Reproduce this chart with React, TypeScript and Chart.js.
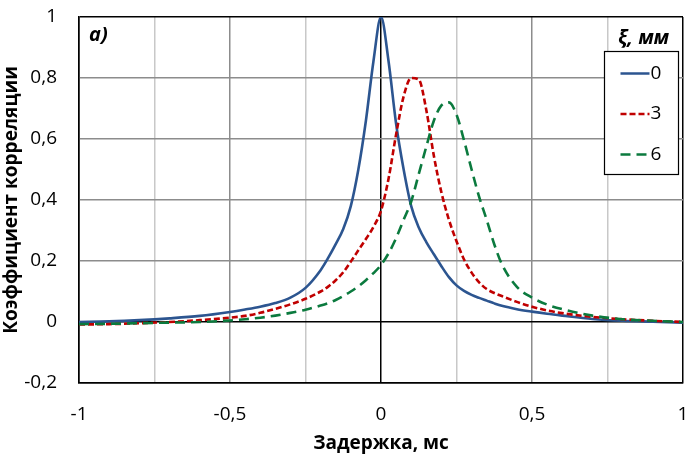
import { useEffect, useRef } from "react";
import { Chart, registerables } from "chart.js";

Chart.register(...registerables);

const FONT = "'Open Sans', 'DejaVu Sans', sans-serif";

// Delay, ms
const delayMs = [
  -1, -0.9, -0.8, -0.7, -0.6, -0.5, -0.45, -0.4, -0.35, -0.3,
  -0.25, -0.2, -0.175, -0.15, -0.125, -0.1, -0.075, -0.05, -0.025, 0,
  0.025, 0.05, 0.075, 0.1, 0.125, 0.15, 0.175, 0.2, 0.225, 0.25,
  0.275, 0.3, 0.325, 0.35, 0.375, 0.4, 0.45, 0.5, 0.55, 0.6,
  0.7, 0.8, 0.9, 1,
];

// ξ = 0 mm
const corrXi0 = [
  0.0, 0.002, 0.006, 0.012, 0.02, 0.033, 0.041, 0.05, 0.062, 0.08,
  0.112, 0.17, 0.21, 0.255, 0.305, 0.38, 0.5, 0.66, 0.855, 1.0,
  0.855, 0.65, 0.5, 0.38, 0.31, 0.262, 0.222, 0.183, 0.147, 0.12,
  0.102, 0.089, 0.079, 0.07, 0.061, 0.053, 0.042, 0.034, 0.027, 0.021,
  0.01, 0.004, 0.001, -0.002,
];

// ξ = 3 mm
const corrXi3 = [
  -0.008, -0.007, -0.004, 0.0, 0.006, 0.014, 0.02, 0.03, 0.043, 0.058,
  0.076, 0.1, 0.116, 0.137, 0.163, 0.198, 0.235, 0.272, 0.312, 0.365,
  0.47, 0.615, 0.74, 0.8, 0.795, 0.695, 0.545, 0.425, 0.335, 0.265,
  0.205, 0.162, 0.13, 0.108, 0.095, 0.085, 0.066, 0.05, 0.038, 0.029,
  0.017, 0.009, 0.004, 0.0,
];

// ξ = 6 mm
const corrXi6 = [
  -0.007, -0.006, -0.004, -0.002, 0.0, 0.005, 0.009, 0.014, 0.021, 0.03,
  0.04, 0.054, 0.062, 0.072, 0.085, 0.1, 0.117, 0.137, 0.16, 0.187,
  0.225, 0.275, 0.335, 0.395, 0.485, 0.575, 0.66, 0.71, 0.72, 0.68,
  0.595, 0.5, 0.41, 0.335, 0.255, 0.19, 0.115, 0.08, 0.057, 0.042,
  0.021, 0.009, 0.004, 0.0,
];

const seriesLabels = ["0", "3", "6"];
const seriesColors = ["#2C5590", "#C00000", "#0B7A3E"];
const seriesDashes: number[][] = [[], [6, 3], [10, 6]];
const legendTitle = "ξ, мм";
const panelLabel = "а)";
const xTitle = "Задержка, мс";
const yTitle = "Коэффициент корреляции";

function fmt(v: number): string {
  const r = Math.round(v * 100) / 100;
  return String(r).replace(".", ",");
}

const overlayPlugin = {
  id: "overlay",
  afterDraw(chart: any) {
    const { ctx, chartArea } = chart;
    ctx.save();
    ctx.fillStyle = "#000";
    ctx.textBaseline = "middle";

    // panel label
    ctx.textAlign = "left";
    ctx.font = `italic bold 20px ${FONT}`;
    ctx.fillText(panelLabel, chartArea.left + 10, chartArea.top + 18);

    // legend box
    const boxR = chartArea.right - 4.5;
    const boxL = boxR - 74;
    const boxT = chartArea.top + 34.5;
    const boxB = boxT + 123;
    ctx.fillStyle = "#fff";
    ctx.fillRect(boxL, boxT, boxR - boxL, boxB - boxT);
    ctx.strokeStyle = "#000";
    ctx.lineWidth = 1.2;
    ctx.strokeRect(boxL, boxT, boxR - boxL, boxB - boxT);

    // legend title
    ctx.fillStyle = "#000";
    ctx.textAlign = "center";
    ctx.font = `italic bold 20px ${FONT}`;
    ctx.fillText(legendTitle, (boxL + boxR) / 2 + 2, chartArea.top + 21);

    // legend items
    ctx.font = `19px ${FONT}`;
    ctx.textAlign = "left";
    seriesLabels.forEach((lab, i) => {
      const y = boxT + 22 + i * 40.5;
      ctx.beginPath();
      ctx.strokeStyle = seriesColors[i];
      ctx.lineWidth = 2.5;
      ctx.setLineDash(seriesDashes[i]);
      ctx.moveTo(boxL + 16, y);
      ctx.lineTo(boxL + 45, y);
      ctx.stroke();
      ctx.setLineDash([]);
      ctx.fillStyle = "#000";
      ctx.fillText(lab, boxL + 46, y);
    });
    ctx.restore();
  },
};

export default function App() {
  const ref = useRef<HTMLCanvasElement | null>(null);

  useEffect(() => {
    if (!ref.current) return;
    const series = [corrXi0, corrXi3, corrXi6];
    const chart = new Chart(ref.current, {
      type: "line",
      data: {
        datasets: series.map((ys, i) => ({
          label: seriesLabels[i],
          data: delayMs.map((x, j) => ({ x, y: ys[j] })),
          borderColor: seriesColors[i],
          backgroundColor: seriesColors[i],
          borderWidth: 2.6,
          borderDash: seriesDashes[i],
          pointRadius: 0,
          fill: false,
          cubicInterpolationMode: "monotone" as const,
          order: 3 - i,
        })),
      },
      options: {
        animation: false,
        responsive: true,
        maintainAspectRatio: false,
        layout: { padding: { left: 0, right: 11, top: 17, bottom: 8 } },
        plugins: {
          legend: { display: false },
          tooltip: { enabled: false },
        },
        scales: {
          x: {
            type: "linear",
            min: -1,
            max: 1,
            afterFit: (s: any) => {
              s.height = 72;
              s.paddingLeft = 0;
              s.paddingRight = 0;
            },
            ticks: {
              stepSize: 0.25,
              autoSkip: false,
              maxRotation: 0,
              padding: 20,
              color: "#000",
              font: { family: FONT, size: 19 },
              callback: (v: any) => {
                const n = Number(v);
                return Math.abs(n * 2 - Math.round(n * 2)) < 1e-6 ? fmt(n) : "";
              },
            },
            grid: {
              drawTicks: false,
              color: (c: any) => {
                const v = c.tick ? c.tick.value : 0;
                if (Math.abs(v) < 1e-9 || Math.abs(Math.abs(v) - 1) < 1e-9) return "#000";
                if (Math.abs(v * 2 - Math.round(v * 2)) < 1e-6) return "#8C8C8C";
                return "#C8C8C8";
              },
              lineWidth: 1.5,
            },
            border: { display: true, color: "#000", width: 1.5 },
            title: {
              display: true,
              text: xTitle,
              color: "#000",
              font: { family: FONT, size: 19, weight: "bold" },
              padding: { top: 0, bottom: 0 },
            },
          },
          y: {
            type: "linear",
            min: -0.2,
            max: 1,
            afterFit: (s: any) => {
              s.width = 79;
              s.paddingTop = 0;
              s.paddingBottom = 0;
            },
            ticks: {
              stepSize: 0.2,
              padding: 22,
              color: "#000",
              font: { family: FONT, size: 19 },
              callback: (v: any) => fmt(Number(v)),
            },
            grid: {
              drawTicks: false,
              color: (c: any) => {
                const v = c.tick ? c.tick.value : 0;
                if (Math.abs(v) < 1e-9 || Math.abs(v - 1) < 1e-9 || Math.abs(v + 0.2) < 1e-9) return "#000";
                return "#8C8C8C";
              },
              lineWidth: 1.5,
            },
            border: { display: true, color: "#000", width: 1.5 },
            title: {
              display: true,
              text: yTitle,
              color: "#000",
              font: { family: FONT, size: 19, weight: "bold" },
              padding: { top: 0, bottom: 0 },
            },
          },
        },
      },
      plugins: [overlayPlugin],
    });
    return () => chart.destroy();
  }, []);

  return (
    <div
      style={{
        position: "fixed",
        left: 0,
        top: 0,
        width: 694,
        height: 463,
        background: "#fff",
      }}
    >
      <canvas ref={ref} />
    </div>
  );
}
